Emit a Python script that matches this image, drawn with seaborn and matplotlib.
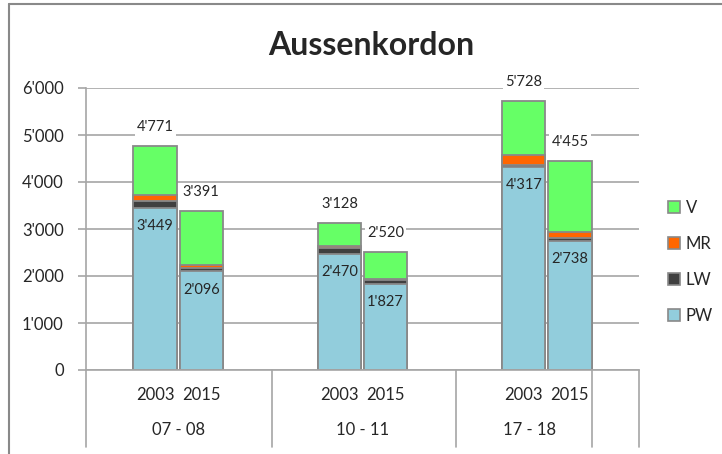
import pandas as pd
import matplotlib
matplotlib.use("Agg")
import matplotlib.pyplot as plt
import seaborn as sns
from matplotlib.lines import Line2D
from matplotlib.patches import Patch
from matplotlib.ticker import FuncFormatter

# --- Daten ---
zeitraum = ["07 - 08", "07 - 08", "10 - 11", "10 - 11", "17 - 18", "17 - 18"]
jahr = ["2003", "2015", "2003", "2015", "2003", "2015"]
pw = [3449, 2096, 2470, 1827, 4317, 2738]
lw = [150, 80, 120, 90, 40, 80]
mr = [130, 50, 50, 20, 210, 110]
v = [1042, 1165, 488, 583, 1161, 1527]
kategorien = ["07 - 08", "10 - 11", "17 - 18"]

farben = {"V": "#66FF66", "MR": "#FF6600", "LW": "#404040", "PW": "#92CDDC"}
grau = "#A6A6A6"
rand = "#898989"


def fmt(x):
    return f"{int(round(x)):,}".replace(",", "'")


df = pd.DataFrame({"Zeitraum": zeitraum, "Jahr": jahr,
                   "PW": pw, "LW": lw, "MR": mr, "V": v})
df["cum_PW"] = df["PW"]
df["cum_LW"] = df["cum_PW"] + df["LW"]
df["cum_MR"] = df["cum_LW"] + df["MR"]
df["cum_V"] = df["cum_MR"] + df["V"]

sns.set_theme(style="white")
plt.rcParams["font.family"] = ["Lato", "DejaVu Sans"]

fig = plt.figure(figsize=(7.22, 4.54), dpi=100)
ax = fig.add_axes([86 / 722, 1 - 370 / 454, 553 / 722, 282 / 454])

# gestapelte Balken: kumulierte Summen übereinander zeichnen
for seg in ["V", "MR", "LW", "PW"]:
    sns.barplot(data=df, x="Zeitraum", y="cum_" + seg, hue="Jahr",
                order=kategorien, hue_order=["2003", "2015"],
                palette=[farben[seg]] * 2, saturation=1, width=0.5, gap=0.06,
                edgecolor=rand, linewidth=1.3, errorbar=None,
                legend=False, ax=ax)

ax.set_xlim(-0.5, 2.5)
ax.set_ylim(0, 6000)
ax.set_yticks(range(0, 6001, 1000))
ax.yaxis.set_major_formatter(FuncFormatter(lambda x, p: fmt(x)))
ax.yaxis.grid(True, color=grau, lw=1.2)
ax.set_axisbelow(True)
ax.set_xticks([])
ax.set_xlabel("")
ax.set_ylabel("")
ax.tick_params(axis="y", left=True, length=6, width=1.2, color=grau,
               labelsize=12, pad=10)
for s in ["top", "right"]:
    ax.spines[s].set_visible(False)
for s in ["left", "bottom"]:
    ax.spines[s].set_color(grau)
    ax.spines[s].set_linewidth(1.2)

# Beschriftungen: Total oben, PW im Balken
pw_bars = ax.containers[-2:]
for j, cont in enumerate(pw_bars):
    for i, bar in enumerate(cont):
        row = df.iloc[i * 2 + j]
        xc = bar.get_x() + bar.get_width() / 2
        ax.annotate(fmt(row["cum_V"]), (xc, row["cum_V"]), xytext=(0, 13.5),
                    textcoords="offset points", ha="center", va="center",
                    fontsize=10.5,
                    bbox=dict(boxstyle="square,pad=0.15", fc="white", ec="none"))
        ax.annotate(fmt(row["PW"]), (xc, row["PW"]), xytext=(0, -13),
                    textcoords="offset points", ha="center", va="center",
                    fontsize=10.5)
        ax.text(xc, -0.089, row["Jahr"], transform=ax.get_xaxis_transform(),
                ha="center", va="center", fontsize=12)

# Kategorienachse als Tabelle
for xf in [0, 186 / 553, 370 / 553, 506 / 553, 1.0]:
    ax.add_line(Line2D([xf, xf], [0, -0.273], transform=ax.transAxes,
                       color=grau, lw=1.2, clip_on=False))
for xf, lab in zip([0.168, 0.501, 0.803], kategorien):
    ax.text(xf, -0.213, lab, transform=ax.transAxes, ha="center",
            va="center", fontsize=12)

# Titel
fig.text(371 / 722, 1 - 55 / 454, "Aussenkordon", ha="center", va="baseline",
         fontsize=23, fontweight="bold")

# Legende
handles = [Patch(facecolor=farben[k], edgecolor=rand, linewidth=1.2)
           for k in ["V", "MR", "LW", "PW"]]
fig.legend(handles, ["V", "MR", "LW", "PW"], loc="center left",
           bbox_to_anchor=(668 / 722, 1 - 262 / 454), frameon=False,
           fontsize=12, handlelength=0.7, handleheight=0.7,
           handletextpad=0.35, labelspacing=1.2, borderpad=0,
           borderaxespad=0)

# Diagrammrahmen
fig.add_artist(Line2D([9 / 722, 9 / 722], [0, 1 - 4 / 454],
                      transform=fig.transFigure, color=rand, lw=1.5))
fig.add_artist(Line2D([9 / 722, 1], [1 - 4 / 454, 1 - 4 / 454],
                      transform=fig.transFigure, color=rand, lw=1.5))

fig.savefig("out.png", dpi=100, facecolor="white")
